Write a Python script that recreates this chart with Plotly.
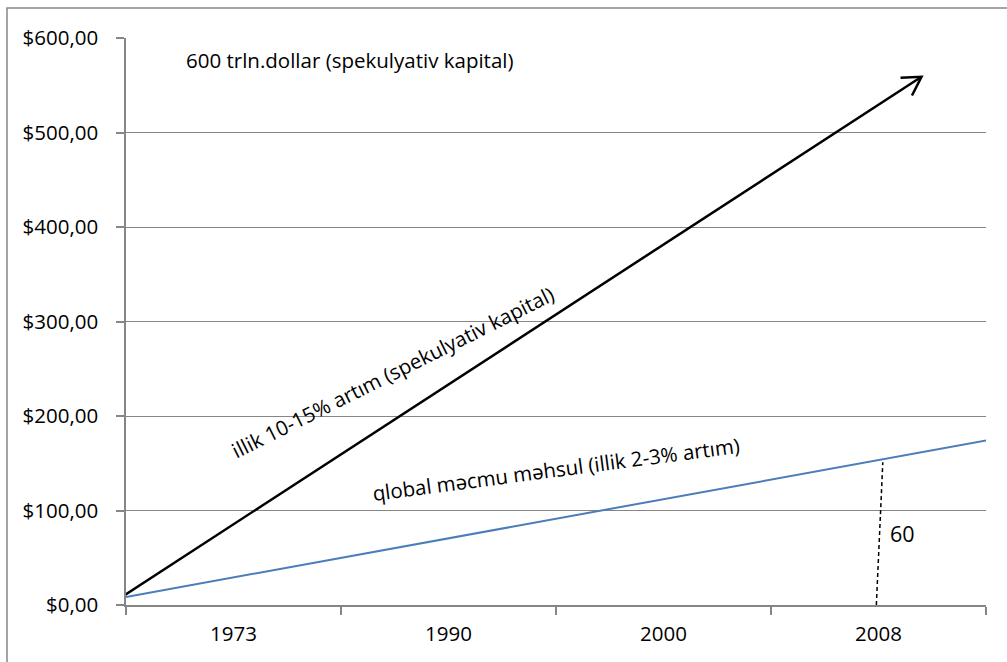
import math
import plotly.graph_objects as go

# ---- data ----
categories = ["1973", "1990", "2000", "2008"]
y_ticks = [0, 100, 200, 300, 400, 500, 600]
y_tick_labels = ["$0,00", "$100,00", "$200,00", "$300,00", "$400,00", "$500,00", "$600,00"]

capital_x = [-0.02, 3.70]      # speculative capital arrow (category units)
capital_y = [8.5, 559.0]
gdp_x = [0.0, 4.04]            # global GDP line
gdp_y = [8.5, 175.7]
gap_x = [3.49, 3.52]           # dashed "60" marker
gap_y = [0.0, 151.0]

title_text = "600 trln.dollar (spekulyativ kapital)"
capital_text = "illik 10-15% artım (spekulyativ kapital)"
gdp_text = "qlobal məcmu məhsul (illik 2-3% artım)"
gap_text = "60"

# ---- layout geometry ----
W, H = 1007, 662
ML, MR, MT, MB = 126, 21, 38, 57
pw, ph = W - ML - MR, H - MT - MB
xr = [0, 4]
yr = [0, 600]
sx = pw / (xr[1] - xr[0])
sy = ph / (yr[1] - yr[0])

FONT = "Open Sans"
GRAY = "#868686"

fig = go.Figure()

fig.add_trace(go.Scatter(x=gdp_x, y=gdp_y, mode="lines",
                         line=dict(color="#4a7ebb", width=2), cliponaxis=False,
                         hoverinfo="skip"))
fig.add_trace(go.Scatter(x=gap_x, y=gap_y, mode="lines",
                         line=dict(color="black", width=1.5, dash="4px,3px"),
                         cliponaxis=False, hoverinfo="skip"))
fig.add_trace(go.Scatter(x=capital_x, y=capital_y, mode="lines",
                         line=dict(color="black", width=2.5), cliponaxis=False,
                         hoverinfo="skip"))

# chevron arrowhead computed from the capital line end (pixel space)
dxp = (capital_x[1] - capital_x[0]) * sx
dyp = (capital_y[1] - capital_y[0]) * sy
ang = math.atan2(dyp, dxp)
L = 21
hx, hy = [], []
for a in (ang + math.radians(150), None, ang - math.radians(150)):
    if a is None:
        hx.append(capital_x[1]); hy.append(capital_y[1])
    else:
        hx.append(capital_x[1] + L * math.cos(a) / sx)
        hy.append(capital_y[1] + L * math.sin(a) / sy)
fig.add_trace(go.Scatter(x=hx, y=hy, mode="lines",
                         line=dict(color="black", width=2.5), cliponaxis=False,
                         hoverinfo="skip"))

fs = 20.5
fig.add_annotation(x=1.04, y=577, text=title_text, showarrow=False,
                   font=dict(family=FONT, size=fs, color="black"))
fig.add_annotation(x=1.24, y=247, text=capital_text, showarrow=False, textangle=-26.5,
                   font=dict(family=FONT, size=fs, color="black"))
fig.add_annotation(x=2.0, y=144, text=gdp_text, showarrow=False, textangle=-7.5,
                   font=dict(family=FONT, size=fs, color="black"))
fig.add_annotation(x=3.61, y=76, text=gap_text, showarrow=False,
                   font=dict(family=FONT, size=fs + 1, color="black"))

# outer chart border (partly outside the page)
fig.add_shape(type="rect", xref="paper", yref="paper",
              x0=(7 - ML) / pw, x1=1.2, y0=-0.3, y1=1 + (MT - 8) / ph,
              line=dict(color=GRAY, width=1.5), fillcolor="rgba(0,0,0,0)", layer="below")

fig.update_layout(
    width=W, height=H,
    margin=dict(l=ML, r=MR, t=MT, b=MB, pad=0),
    paper_bgcolor="white", plot_bgcolor="white",
    showlegend=False,
    font=dict(family=FONT, size=fs, color="black"),
    xaxis=dict(range=xr, tickvals=[i + 0.5 for i in range(len(categories))],
               ticktext=categories, ticks="", showgrid=False, zeroline=False,
               showline=True, linecolor=GRAY, linewidth=1.5,
               tickfont=dict(family=FONT, size=fs), ticklabelstandoff=10,
               minor=dict(tick0=0, dtick=1, ticks="outside", ticklen=8,
                          tickcolor=GRAY, tickwidth=1.5, showgrid=False),
               fixedrange=True),
    yaxis=dict(range=yr, tickvals=y_ticks, ticktext=y_tick_labels,
               ticks="outside", ticklen=8, tickcolor=GRAY, tickwidth=1.5,
               showgrid=True, gridcolor=GRAY, gridwidth=1.3, zeroline=False,
               showline=True, linecolor=GRAY, linewidth=1.5,
               tickfont=dict(family=FONT, size=fs), ticklabelstandoff=14,
               fixedrange=True),
)

fig.write_html("out.html", config={"displayModeBar": False},
               post_script="document.body.style.margin='0px';")
